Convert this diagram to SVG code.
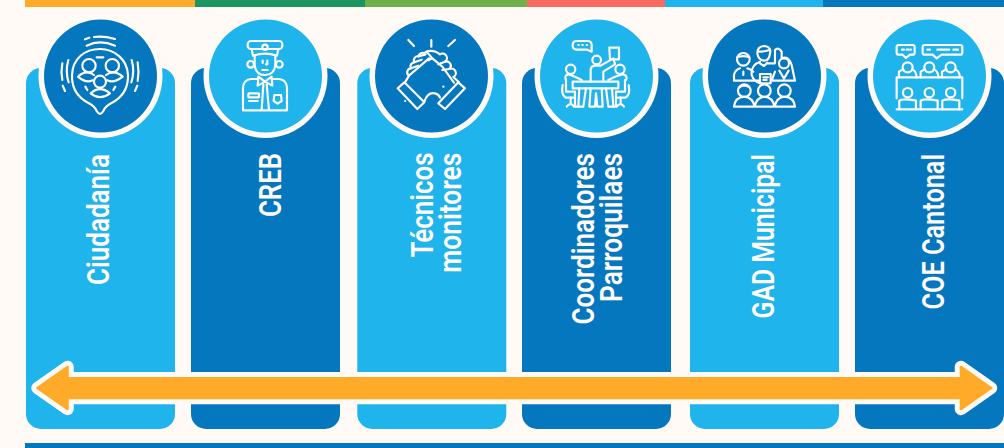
<svg xmlns="http://www.w3.org/2000/svg" width="1004" height="448" viewBox="0 0 1004 448">
<style>
.light{fill:#1fb4ec}.dark{fill:#0477bf}
.ring{fill:#fffaf5}
.lbl{font-family:"Roboto","Liberation Sans",sans-serif;font-weight:600;font-size:31px;fill:#fffaf5}
.ic{fill:none;stroke:#fffaf5;stroke-width:6.5;stroke-linecap:round;stroke-linejoin:round}
</style>
<defs>
<path id="card" d="M15,0H134A15,15 0 0 1 149,15V346A15,15 0 0 1 134,361H15A15,15 0 0 1 0,346V15A15,15 0 0 1 15,0Z"/>
</defs>
<rect width="1004" height="448" fill="#fffaf5"/>
<g id="top-bar">
<rect x="25" width="170" height="7" fill="#ffaa28"/>
<rect x="195" width="170" height="7" fill="#1b9663"/>
<rect x="365" width="162" height="7" fill="#6fb04a"/>
<rect x="527" width="138" height="7" fill="#f76b60"/>
<rect x="665" width="158" height="7" fill="#1fb4ec"/>
<rect x="823" width="181" height="7" fill="#0477bf"/>
</g>
<rect id="bottom-bar" x="25" y="443" width="979" height="5" fill="#0477bf"/>

<g id="ciudadania">
<use href="#card" x="26" y="68" class="light"/>
<circle cx="100.5" cy="76" r="62" class="ring"/><circle cx="100.5" cy="76" r="56.5" class="dark"/>
<g class="ic" transform="translate(50,25) scale(.3333)">
<path d="M140,258C132,238 120,238 105,228C75,208 65,180 66,150C68,100 105,72 150,72C195,72 232,105 234,150C235,180 225,208 195,228C180,238 168,238 160,258Q150,275 140,258Z"/>
<circle cx="117" cy="122" r="20"/><circle cx="187" cy="122" r="20"/><circle cx="150" cy="170" r="18"/>
<path d="M84,155Q108,132 132,150M128,166Q108,176 84,155M168,150Q192,132 218,155Q192,176 172,166"/>
<path d="M122,205Q150,180 180,205Q150,228 122,205Z"/>
<path d="M140,97H160M106,185L112,195M196,185L190,195"/>
<path d="M110,62Q150,42 195,62M105,43L118,38M132,36Q160,32 195,42"/>
<path d="M55,105Q45,140 56,172M37,115Q32,140 37,165M38,182L45,198"/>
<path d="M245,105Q255,140 244,172M263,112Q268,140 263,168M262,182L255,198"/>
</g>
</g>

<g id="creb">
<use href="#card" x="191" y="68" class="dark"/>
<circle cx="265.5" cy="76" r="62" class="ring"/><circle cx="265.5" cy="76" r="56.5" class="light"/>
<g class="ic" transform="translate(215,25) scale(.3333)">
<rect x="98" y="48" width="104" height="24" rx="10"/>
<circle cx="150" cy="67" r="8"/>
<path d="M110,72L114,92Q150,80 186,92L190,72"/>
<path d="M119,92V120Q122,150 150,150Q178,150 181,120V92"/>
<circle cx="107" cy="118" r="10"/><circle cx="193" cy="118" r="10"/>
<path d="M143,107V114M157,107V118H153M142,135H158"/>
<path d="M128,162H108Q84,165 84,190V256H216V190Q216,165 192,162H172"/>
<path d="M130,155L150,170L170,155L172,182L150,170L128,182Z"/>
<path d="M145,178L140,255M155,178L162,255"/>
<rect x="100" y="205" width="32" height="12" rx="2"/><path d="M102,228H128"/>
<path d="M178,210H198L200,228L188,236L176,228Z"/>
</g>
</g>

<g id="tecnicos">
<use href="#card" x="357.3" y="68" class="light"/>
<circle cx="431.5" cy="76" r="62" class="ring"/><circle cx="431.5" cy="76" r="56.5" class="dark"/>
<g class="ic" transform="translate(385,25) scale(.3333)">
<path d="M70,45L87,63M139,45V65M210,45L190,63"/>
<path d="M38,190L58,172L118,232L97,252Z"/>
<path d="M240,190L220,172L160,235L180,252Z"/>
<path d="M60,172L72,152A12,12 0 0 1 78,130A12,12 0 0 1 88,112A12,12 0 0 1 100,94A14,14 0 0 1 118,84L130,78Q150,75 165,88A13,13 0 0 1 180,110A13,13 0 0 1 193,132A13,13 0 0 1 205,156L222,172"/>
<path d="M78,130L100,122M88,112L110,104M100,94L122,88M125,80L142,100L130,106"/>
<path d="M72,152L132,100M142,100L172,125L207,173M180,110L160,118M193,132L172,135"/>
<path d="M118,230Q128,200 150,205Q162,208 165,218"/>
<path d="M60,228H60.5M175,185H175.5"/>
</g>
</g>

<g id="coordinadores">
<use href="#card" x="522" y="68" class="dark"/>
<circle cx="596.5" cy="76" r="62" class="ring"/><circle cx="596.5" cy="76" r="56.5" class="light"/>
<g class="ic" transform="translate(550,25) scale(.3333)">
<path d="M80,48H112Q125,48 125,61V80L112,74H80Q68,74 68,61Q68,48 80,48Z"/>
<path d="M85,60H86M97,60H98M110,60H111"/>
<path d="M178,68H207V103H180Z"/>
<circle cx="140" cy="105" r="13"/>
<path d="M122,170V132Q125,122 135,122H152L190,100L195,118L160,140V170"/>
<circle cx="62" cy="133" r="14"/><circle cx="210" cy="133" r="14"/>
<path d="M68,170H205V190H68Z"/>
<path d="M88,190L85,245H100L108,190M168,190L175,245H190L186,190"/>
<path d="M122,190L118,245H135L138,205L142,245H158L155,190"/>
<path d="M48,165Q42,150 55,148L75,155L95,165M228,165Q234,150 218,148L195,155L175,165"/>
<path d="M48,165V200H75V245H85M225,165V200H198V245H190"/>
<path d="M38,180Q32,210 48,218H70M236,180Q242,210 226,218H204"/>
<path d="M62,218V235M50,245Q62,230 72,245M212,218V235M200,245Q212,230 222,245"/>
</g>
</g>

<g id="gad">
<use href="#card" x="690" y="68" class="light"/>
<circle cx="764.5" cy="76" r="62" class="ring"/><circle cx="764.5" cy="76" r="56.5" class="dark"/>
<g class="ic" transform="translate(680,0) scale(.3333)">
<circle cx="190" cy="178" r="19"/><path d="M172,172Q190,165 208,172"/>
<path d="M162,242V225Q165,210 180,205M202,205Q215,210 220,215M190,215V225M162,242H240"/>
<path d="M232,160Q232,138 255,138Q275,142 270,160Q268,182 252,182Q235,180 232,160ZM236,155Q255,155 268,150"/>
<path d="M240,185Q212,195 215,225Q222,245 240,250M262,190H285V165M240,190L252,198L262,188"/>
<rect x="240" y="222" width="32" height="28"/><path d="M250,232H264M250,240H260"/>
<path d="M285,165V150Q295,140 305,155V175M305,175Q325,165 335,195L345,242H275L285,215"/>
<circle cx="312" cy="190" r="15"/><path d="M298,212L312,236L326,212"/>
<circle cx="193" cy="272" r="19"/><circle cx="253" cy="272" r="19"/><circle cx="313" cy="272" r="19"/>
<path d="M162,320Q165,292 193,290Q218,292 224,320Q230,292 253,290Q278,292 284,320Q290,292 313,290Q342,292 345,320ZM178,262Q193,252 208,262"/>
</g>
</g>

<g id="coe">
<use href="#card" x="855" y="68" class="dark"/>
<circle cx="929.5" cy="76" r="62" class="ring"/><circle cx="929.5" cy="76" r="56.5" class="light"/>
<g class="ic" transform="translate(680,0) scale(.3333)">
<path d="M656,135H698Q704,135 704,141V158Q704,164 698,164H690L678,174L668,164H656Q650,164 650,158V141Q650,135 656,135Z"/>
<path d="M666,149H672M680,149H686M692,149H693"/>
<path d="M734,135H841Q847,135 847,141V158Q847,164 841,164H785L770,175L758,164H734Q728,164 728,158V141Q728,135 734,135Z"/>
<path d="M742,149H750M772,149H808M820,149H834"/>
<circle cx="683" cy="202" r="15"/><circle cx="748" cy="202" r="15"/><circle cx="812" cy="202" r="15"/>
<path d="M657,232V215Q665,210 670,208M696,208Q708,212 710,232M722,232V215Q730,210 735,208M761,208Q773,212 776,232M786,232V215Q795,210 800,208M825,208Q838,212 840,232"/>
<path d="M650,295V232H847V295"/>
<circle cx="683" cy="278" r="14"/><circle cx="748" cy="278" r="14"/><circle cx="812" cy="278" r="14"/>
<path d="M658,328V302Q668,294 708,302V328M722,328V302Q735,294 773,302V328M787,328V302Q800,294 838,302V328"/>
<path d="M650,328H847"/>
</g>
</g>

<g id="labels">
<text class="lbl" transform="translate(108.5,285) rotate(-90)" textLength="131" lengthAdjust="spacingAndGlyphs">Ciudadanía</text>
<text class="lbl" transform="translate(281,217) rotate(-90)" textLength="64" lengthAdjust="spacingAndGlyphs">CREB</text>
<text class="lbl" transform="translate(433.3,257.5) rotate(-90)" textLength="105" lengthAdjust="spacingAndGlyphs">Técnicos</text>
<text class="lbl" transform="translate(460.7,272.7) rotate(-90)" textLength="120" lengthAdjust="spacingAndGlyphs">monitores</text>
<text class="lbl" transform="translate(594,324.5) rotate(-90)" textLength="171.5" lengthAdjust="spacingAndGlyphs">Coordinadores</text>
<text class="lbl" transform="translate(621.7,302) rotate(-90)" textLength="149" lengthAdjust="spacingAndGlyphs">Parroquilaes</text>
<text class="lbl" transform="translate(774,318.5) rotate(-90)" textLength="164.5" lengthAdjust="spacingAndGlyphs">GAD Municipal</text>
<text class="lbl" transform="translate(944,309.5) rotate(-90)" textLength="155.5" lengthAdjust="spacingAndGlyphs">COE Cantonal</text>
</g>

<g id="connectors">
<path id="arrow" d="M37.5,388L67.5,367V378.3H961V367L991,388L961,409V398H67.5V409Z" fill="#ffaa28" stroke="#fffaf5" stroke-width="12.5" stroke-linejoin="round"/>
<path d="M37.5,388L67.5,367V378.3H961V367L991,388L961,409V398H67.5V409Z" fill="#ffaa28" stroke="#ffaa28" stroke-width="2.5" stroke-linejoin="round"/>
</g>
</svg>
